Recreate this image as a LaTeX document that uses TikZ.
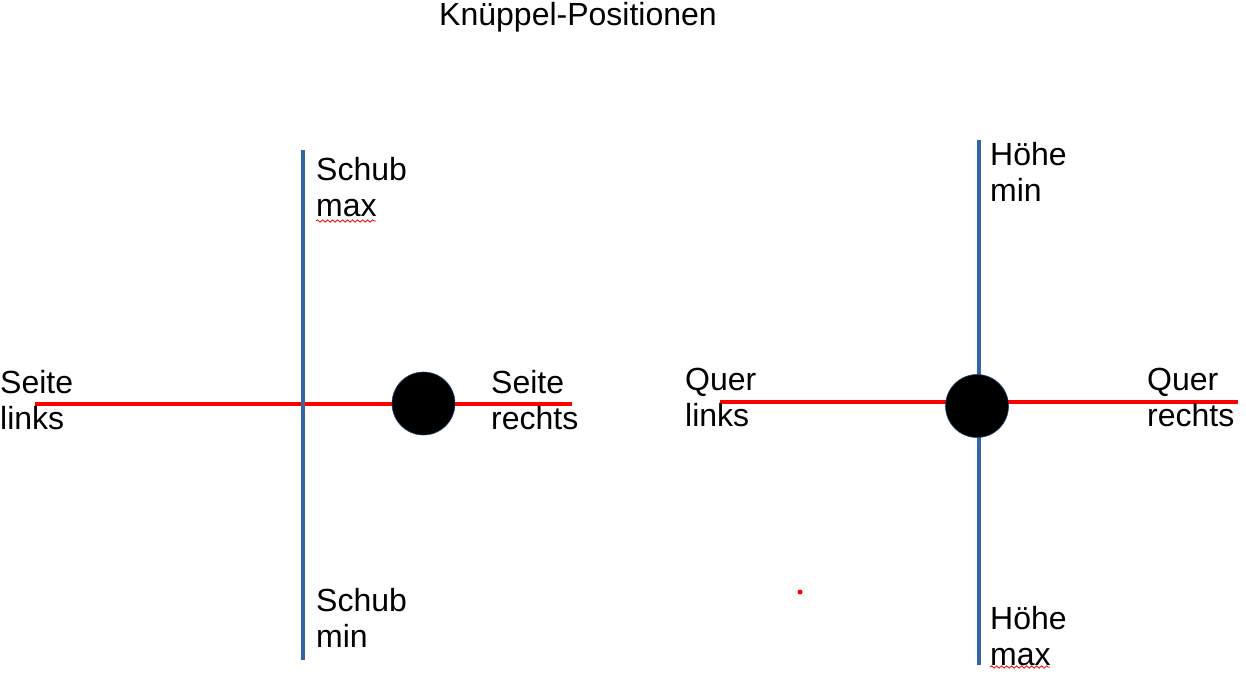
\documentclass[tikz,border=0pt]{standalone}
\usepackage{fontspec}
\setmainfont{Liberation Sans}
\usepackage{xcolor}
\definecolor{axisblue}{RGB}{52, 101, 164}
\definecolor{axisred}{RGB}{255, 0, 0}
\usetikzlibrary{positioning,calc,decorations.pathmorphing}

\begin{document}
\begin{tikzpicture}[x=1pt, y=-1pt,
    axisv/.style={draw=axisblue, line width=4pt},
    axish/.style={draw=axisred, line width=4pt},
    knob/.style={circle, fill=black, draw=axisblue!70!black, line width=0.6pt, minimum size=63pt, inner sep=0pt},
    lbl/.style={anchor=north west, inner sep=0pt, align=left, font=\fontsize{32}{36}\selectfont},
    squiggle/.style={draw=axisred, line width=0.8pt, decorate, decoration={snake, amplitude=1.2pt, segment length=5pt}}
]
    \useasboundingbox (0,0) rectangle (1246,673);

    \node[lbl, anchor=base] (title) at (578,25) {Knüppel-Positionen};

    % left stick
    \coordinate (schubtop) at (303,150);
    \coordinate (schubbot) at (303,660);
    \coordinate (seiteL) at (35,404);
    \coordinate (seiteR) at (572,404);
    \draw[axish] (seiteL) -- (seiteR);
    \draw[axisv] (schubtop) -- (schubbot);
    \node[knob] (knobL) at (423.5,403.5) {};

    \node[lbl] (schubmax) at (316,157) {Schub\\max};
    \node[lbl] (schubmin) at (316,588) {Schub\\min};
    \node[lbl] (seitelinks) at (0,370) {Seite\\links};
    \node[lbl] (seiterechts) at (491,370) {Seite\\rechts};

    % right stick
    \coordinate (hoehetop) at (979,140);
    \coordinate (hoehebot) at (979,665);
    \coordinate (querL) at (720,402);
    \coordinate (querR) at (1238,402);
    \draw[axisv] (hoehetop) -- (hoehebot);
    \draw[axish] (querL) -- (querR);
    \node[knob] (knobR) at (977,406) {};

    \node[lbl] (hoehemin) at (990,142) {Höhe\\min};
    \node[lbl] (hoehemax) at (990,606) {Höhe\\max};
    \node[lbl] (querlinks) at (685,368) {Quer\\links};
    \node[lbl] (querrechts) at (1147,368) {Quer\\rechts};

    % spell check marks
    \draw[squiggle] (316,221) -- (376,221);
    \draw[squiggle] (990,667) -- (1050,667);
    \fill[axisred] (800,592) circle (2.5);
\end{tikzpicture}
\end{document}
